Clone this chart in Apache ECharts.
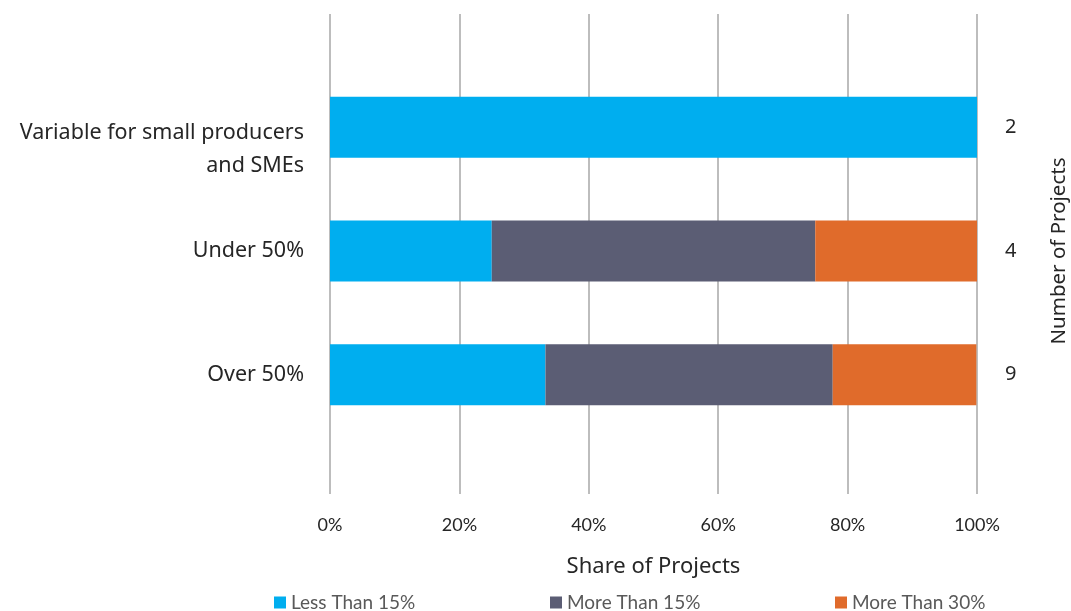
<!DOCTYPE html>
<html>
<head>
<meta charset="utf-8">
<script src="https://cdn.jsdelivr.net/npm/echarts@6/dist/echarts.min.js"></script>
<style>html,body{margin:0;padding:0;background:#fff}#c{width:1071px;height:611px}</style>
</head>
<body>
<div id="c"></div>
<script>
const categories = ['Variable for small producers\nand SMEs', 'Under 50%', 'Over 50%'];
const projectCounts = ['2', '4', '9'];
const lessThan15 = [100, 25, 33.3];
const moreThan15 = [0, 50, 44.4];
const moreThan30 = [0, 25, 22.2];
const xTicks = [0, 20, 40, 60, 80, 100];
const seriesNames = ['Less Than 15%', 'More Than 15%', 'More Than 30%'];

const FONT = 'Noto Sans';
const LFONT = 'Lato';
const TXT = '#262626';
const chart = echarts.init(document.getElementById('c'), null, {renderer: 'canvas'});

const legendLefts = [274, 550, 835];

const option = {
  animation: false,
  textStyle: {fontFamily: FONT},
  legend: seriesNames.map((n, i) => ({
    left: legendLefts[i], top: 593, padding: 0,
    itemWidth: 12, itemHeight: 12, icon: 'rect',
    textStyle: {fontFamily: LFONT, fontSize: 19, color: '#595959'},
    data: [n]
  })),
  grid: [
    {left: 330, right: 94, top: 14, bottom: 117, outerBoundsMode: 'none'},
    {left: 330, right: 94, top: 65.5, bottom: 174.5, outerBoundsMode: 'none'}
  ],
  xAxis: [
    {
      gridIndex: 0, type: 'value', min: 0, max: 100, interval: 20,
      axisLine: {show: false}, axisTick: {show: false},
      splitLine: {show: true, lineStyle: {color: '#bdbdbd', width: 2}},
      axisLabel: {formatter: v => xTicks.includes(v) ? v + '%' : '', fontSize: 18, color: TXT, margin: 22, fontFamily: LFONT},
      name: 'Share of Projects', nameLocation: 'middle', nameGap: 62,
      nameTextStyle: {fontSize: 22, color: TXT, fontFamily: FONT}
    },
    {
      gridIndex: 1, type: 'value', min: 0, max: 100, show: false
    }
  ],
  yAxis: [
    {gridIndex: 0, type: 'category', data: [''], show: false},
    {
      gridIndex: 1, type: 'category', inverse: true, data: categories,
      axisLine: {show: false}, axisTick: {show: false},
      axisLabel: {
        margin: 26, align: 'right',
        formatter: v => {
          const lines = v.split('\n');
          if (lines.length > 1) return '{s| }\n' + lines.map(l => '{v|' + l + '}').join('\n');
          return '{v|' + v + '}';
        },
        rich: {
          s: {fontSize: 1, lineHeight: 45, align: 'right'},
          v: {fontSize: 21.5, lineHeight: 33, color: TXT, fontFamily: FONT, align: 'right'}
        }
      }
    },
    {
      gridIndex: 1, type: 'category', inverse: true, position: 'right', data: projectCounts,
      axisLine: {show: false}, axisTick: {show: false},
      axisLabel: {fontSize: 20, color: TXT, margin: 28, fontFamily: FONT},
      name: 'Number of Projects', nameLocation: 'middle', nameRotate: 90, nameGap: 72,
      nameTextStyle: {fontSize: 20.5, color: TXT, fontFamily: FONT}
    }
  ],
  series: [
    {name: seriesNames[0], type: 'bar', stack: 's', xAxisIndex: 1, yAxisIndex: 1, barWidth: 61, data: lessThan15, itemStyle: {color: '#00AEEF'}},
    {name: seriesNames[1], type: 'bar', stack: 's', xAxisIndex: 1, yAxisIndex: 1, barWidth: 61, data: moreThan15, itemStyle: {color: '#5B5D74'}},
    {name: seriesNames[2], type: 'bar', stack: 's', xAxisIndex: 1, yAxisIndex: 1, barWidth: 61, data: moreThan30, itemStyle: {color: '#E06B2B'}}
  ]
};
chart.setOption(option);
</script>
</body>
</html>
